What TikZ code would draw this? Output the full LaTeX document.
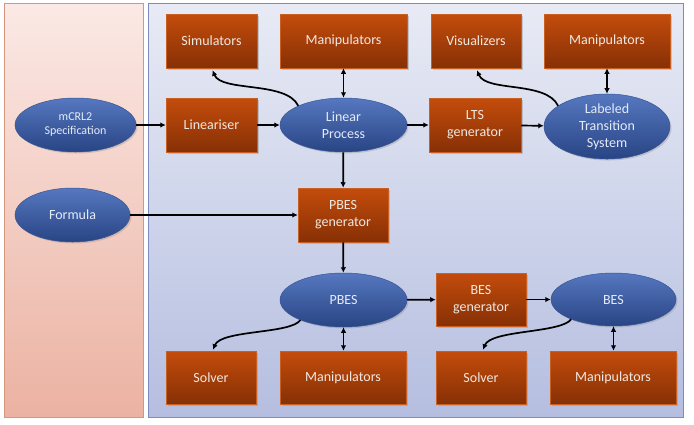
\documentclass[tikz,border=0pt]{standalone}
\usepackage{fontspec}
\setmainfont{Carlito}
\usetikzlibrary{shapes.geometric,shadows,arrows.meta}
\definecolor{boxtop}{RGB}{196,76,12}
\definecolor{boxbot}{RGB}{134,48,5}
\definecolor{boxedge}{RGB}{200,95,35}
\definecolor{elltop}{RGB}{86,120,192}
\definecolor{ellbot}{RGB}{40,68,132}
\definecolor{elledge}{RGB}{55,85,150}
\definecolor{boxtext}{RGB}{240,232,226}
\definecolor{elltext}{RGB}{228,235,248}
\definecolor{lptop}{RGB}{251,233,229}
\definecolor{lpbot}{RGB}{235,178,162}
\definecolor{lpedge}{RGB}{212,150,125}
\definecolor{rptop}{RGB}{232,235,245}
\definecolor{rpbot}{RGB}{181,190,224}
\definecolor{rpedge}{RGB}{125,140,190}
\tikzset{
  orangebox/.style={rectangle, draw=boxedge, line width=0.5pt, top color=boxtop, bottom color=boxbot,
    text=boxtext, align=center, inner sep=0pt, minimum height=54pt,
    font=\fontsize{14}{17}\selectfont,
    drop shadow={opacity=0.35, shadow xshift=1.5pt, shadow yshift=-1.5pt}},
  blueell/.style={ellipse, draw=elledge, line width=0.5pt, top color=elltop, bottom color=ellbot,
    text=elltext, align=center, inner sep=0pt, minimum height=54pt,
    font=\fontsize{14}{17}\selectfont,
    drop shadow={opacity=0.3, shadow xshift=1.5pt, shadow yshift=-1.5pt}},
  conn/.style={line width=1.7pt, -{Latex[length=5.5pt,width=5.5pt]}},
  bconn/.style={line width=1.7pt, {Latex[length=5.5pt,width=5.5pt]}-{Latex[length=5.5pt,width=5.5pt]}}
}
\begin{document}
\begin{tikzpicture}[x=1pt,y=-1pt]
\useasboundingbox (0,0) rectangle (694,424);
% panels
\path[draw=lpedge, line width=0.8pt, top color=lptop, bottom color=lpbot] (4,3) rectangle (143,417);
\path[draw=rpedge, line width=0.8pt, top color=rptop, bottom color=rpbot] (148,3) rectangle (683,417);
% nodes
\node[orangebox, minimum width=91pt] (sim) at (211.5,41) {Simulators};
\node[orangebox, minimum width=127pt] (man1) at (343.5,41) {Manipulators};
\node[orangebox, minimum width=90pt] (vis) at (476,41) {Visualizers};
\node[orangebox, minimum width=126pt] (man2) at (607,41) {Manipulators};
\node[blueell, minimum width=121pt, font=\fontsize{12}{14}\selectfont] (spec) at (75.5,125) {mCRL2\\Specification};
\node[orangebox, minimum width=91pt] (lin) at (211.5,125) {Lineariser};
\node[blueell, minimum width=127pt] (lp) at (343.5,125) {Linear\\Process};
\node[orangebox, minimum width=92pt] (ltsgen) at (475,125) {LTS\\generator};
\node[blueell, minimum width=126pt] (lts) at (607,126.5) {Labeled\\Transition\\System};
\node[blueell, minimum width=115pt] (formula) at (72.5,215) {Formula};
\node[orangebox, minimum width=90pt] (pbesgen) at (343,215) {PBES\\generator};
\node[blueell, minimum width=127pt] (pbes) at (343.5,300) {PBES};
\node[orangebox, minimum width=90pt, minimum height=53pt] (besgen) at (481,299.5) {BES\\generator};
\node[blueell, minimum width=125pt, minimum height=53pt] (bes) at (613.5,299.5) {BES};
\node[orangebox, minimum width=90pt, minimum height=53pt] (sol1) at (211,377.5) {Solver};
\node[orangebox, minimum width=126pt, minimum height=53pt] (man3) at (343,377.5) {Manipulators};
\node[orangebox, minimum width=90pt, minimum height=53pt] (sol2) at (481,377.5) {Solver};
\node[orangebox, minimum width=126pt, minimum height=53pt] (man4) at (613,377.5) {Manipulators};
% connectors
\draw[conn] (spec) -- (lin);
\draw[conn] (lin) -- (lp);
\draw[conn] (lp) -- (ltsgen);
\draw[conn] (ltsgen) -- (lts);
\draw[bconn] (lp) -- (man1);
\draw[bconn] (lts.north -| man2.south) -- (man2.south);
\draw[conn] (lp.157) .. controls +(-12,-25) and +(9,22) .. ([xshift=1pt,yshift=-2pt]sim.south);
\draw[conn] (lts.157) .. controls +(-12,-25) and +(9,22) .. ([xshift=1pt,yshift=-2pt]vis.south);
\draw[conn] (lp) -- (pbesgen);
\draw[conn] (formula) -- (pbesgen);
\draw[conn] (pbesgen) -- (pbes);
\draw[conn] (pbes) -- (besgen);
\draw[conn] (besgen) -- (bes);
\draw[bconn] (pbes) -- (pbes |- man3.north);
\draw[bconn] (bes) -- (bes |- man4.north);
\draw[conn] (pbes.205) .. controls +(-10,14) and +(8,-20) .. ([xshift=2pt,yshift=1pt]sol1.north);
\draw[conn] (bes.205) .. controls +(-10,14) and +(8,-20) .. ([xshift=2pt,yshift=1pt]sol2.north);
\end{tikzpicture}
\end{document}
